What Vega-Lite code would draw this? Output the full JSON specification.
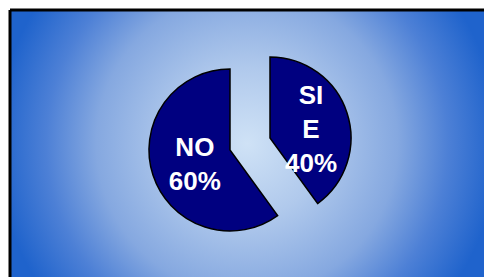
{
  "$schema": "https://vega.github.io/schema/vega-lite/v6.json",
  "autosize": "none",
  "width": 474,
  "height": 267,
  "padding": {"left": 10, "top": 10, "right": 0, "bottom": 0},
  "background": "white",
  "config": {"view": {"stroke": null}},
  "data": {"values": [
    {"label": "SI", "text": "SI\nE\n40%", "value": 40},
    {"label": "NO", "text": "NO\n60%", "value": 60}
  ]},
  "layer": [
    {
      "data": {"values": [{"bg": "fondo"}]},
      "mark": {
        "type": "rect",
        "fill": {
          "gradient": "radial",
          "x1": 0.5, "y1": 0.5, "r1": 0,
          "x2": 0.5, "y2": 0.5, "r2": 0.53,
          "stops": [
            {"offset": 0, "color": "#cfe2f6"},
            {"offset": 0.3, "color": "#b0c9ec"},
            {"offset": 0.6, "color": "#85a8e0"},
            {"offset": 0.8, "color": "#4d80d6"},
            {"offset": 1, "color": "#1f63cc"}
          ]
        }
      },
      "encoding": {}
    },
    {
      "data": {"values": [{"edge": "top"}]},
      "mark": {"type": "rule", "color": "black", "strokeWidth": 3},
      "encoding": {
        "y": {"datum": 1, "type": "quantitative", "scale": {"domain": [0, 1]}, "axis": null}
      }
    },
    {
      "data": {"values": [{"edge": "left"}]},
      "mark": {"type": "rule", "color": "black", "strokeWidth": 3},
      "encoding": {
        "x": {"datum": 0, "type": "quantitative", "scale": {"domain": [0, 1]}, "axis": null}
      }
    },
    {
      "mark": {"type": "arc", "outerRadius": 81, "fill": "#000080", "stroke": "black", "strokeWidth": 1.5, "xOffset": -17, "yOffset": 6.5},
      "encoding": {
        "theta": {"field": "value", "type": "quantitative", "stack": true},
        "order": {"field": "label", "sort": "descending"},
        "opacity": {"condition": {"test": "datum.label === 'NO'", "value": 1}, "value": 0}
      }
    },
    {
      "mark": {"type": "arc", "outerRadius": 81, "fill": "#000080", "stroke": "black", "strokeWidth": 1.5, "xOffset": 23, "yOffset": -5.5},
      "encoding": {
        "theta": {"field": "value", "type": "quantitative", "stack": true},
        "order": {"field": "label", "sort": "descending"},
        "opacity": {"condition": {"test": "datum.label === 'SI'", "value": 1}, "value": 0}
      }
    },
    {
      "mark": {"type": "text", "radius": 38, "font": "Liberation Sans", "fontWeight": "bold", "fontSize": 26, "lineHeight": 34, "lineBreak": "\n", "color": "white", "align": "center", "baseline": "middle", "xOffset": -16, "yOffset": -7.5},
      "encoding": {
        "theta": {"field": "value", "type": "quantitative", "stack": true},
        "order": {"field": "label", "sort": "descending"},
        "text": {"field": "text"},
        "opacity": {"condition": {"test": "datum.label === 'NO'", "value": 1}, "value": 0}
      }
    },
    {
      "mark": {"type": "text", "radius": 41, "font": "Liberation Sans", "fontWeight": "bold", "fontSize": 26, "lineHeight": 34, "lineBreak": "\n", "color": "white", "align": "center", "baseline": "middle", "xOffset": 25, "yOffset": -34.5},
      "encoding": {
        "theta": {"field": "value", "type": "quantitative", "stack": true},
        "order": {"field": "label", "sort": "descending"},
        "text": {"field": "text"},
        "opacity": {"condition": {"test": "datum.label === 'SI'", "value": 1}, "value": 0}
      }
    }
  ]
}
